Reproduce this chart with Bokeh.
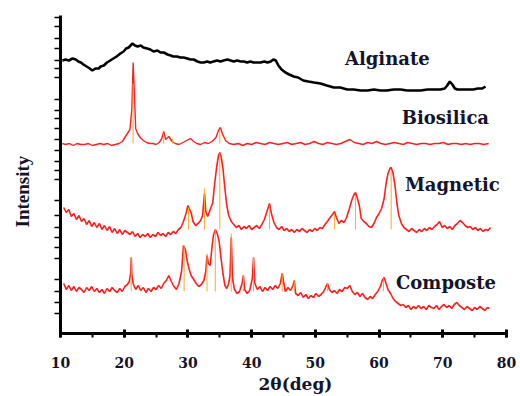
from bokeh.plotting import figure
from bokeh.models import FixedTicker, SingleIntervalTicker, Range1d, Title, LinearAxis
from bokeh.core.properties import value
from bokeh.embed import file_html
from bokeh.resources import INLINE

# ---------------- data (2theta in deg, intensity in arbitrary stacked units) -------------
alginate_tt = [
    10.3, 10.8, 11.3, 11.9, 12.4, 12.8, 13.2, 13.6, 14.1, 14.6,
    15.0, 15.5, 16.0, 16.3, 16.8, 17.3, 17.8, 18.3, 18.8, 19.4,
    19.9, 20.3, 20.7, 21.0, 21.3, 21.7, 22.1, 22.6, 23.0, 23.6,
    24.1, 24.6, 25.2, 25.7, 26.2, 26.8, 27.3, 27.7, 28.3, 28.8,
    29.3, 29.9, 30.4, 30.9, 31.5, 32.0, 32.5, 33.0, 33.5, 34.0,
    34.6, 35.1, 35.6, 36.2, 36.7, 37.2, 37.7, 38.3, 38.8, 39.3,
    39.8, 40.3, 40.9, 41.4, 42.0, 42.5, 43.0, 43.4, 43.8, 44.2,
    44.7, 45.3, 45.9, 46.6, 47.3, 48.1, 48.9, 49.8, 50.8, 51.8,
    52.9, 53.9, 55.0, 56.0, 57.1, 58.2, 59.2, 60.2, 61.2, 62.3,
    63.4, 64.4, 65.5, 66.5, 67.6, 68.6, 69.6, 70.3, 70.7, 71.1,
    71.5, 71.9, 72.3, 73.0, 73.8, 74.8, 75.5, 76.2, 76.7]
alginate_int = [
    273, 274, 273, 275, 274, 272, 271, 269, 267, 265,
    263, 265, 265, 267, 268, 271, 273, 275, 277, 280,
    282, 285, 286, 288, 290, 288, 287, 288, 286, 285,
    284, 282, 283, 281, 281, 279, 278, 277, 277, 276,
    276, 275, 274, 274, 272, 271, 271, 272, 271, 272,
    273, 272, 273, 274, 273, 272, 273, 272, 272, 271,
    272, 271, 271, 271, 272, 271, 272, 274, 273, 268,
    264, 261, 259, 257, 256, 253, 252, 251, 250, 248,
    246, 246, 244, 244, 243, 243, 244, 243, 243, 244,
    244, 243, 243, 243, 244, 244, 244, 245, 248, 252,
    249, 245, 244, 244, 244, 244, 245, 245, 247]

biosilica_tt = [
    10.3, 10.8, 11.4, 12.0, 12.6, 13.2, 13.8, 14.4, 15.0, 15.6,
    16.2, 16.8, 17.4, 18.0, 18.6, 19.2, 19.7, 20.1, 20.5, 20.9,
    21.2, 21.4, 21.6, 21.8, 22.1, 22.5, 23.0, 23.5, 24.0, 24.5,
    25.0, 25.5, 25.9, 26.2, 26.5, 27.0, 27.5, 28.0, 28.6, 29.2,
    29.8, 30.4, 30.9, 31.4, 32.0, 32.6, 33.2, 33.8, 34.4, 34.8,
    35.1, 35.4, 35.9, 36.5, 37.2, 37.9, 38.6, 39.3, 40.0, 40.7,
    41.4, 42.1, 42.8, 43.5, 44.2, 44.9, 45.6, 46.3, 47.0, 47.7,
    48.4, 49.1, 49.8, 50.5, 51.2, 51.9, 52.6, 53.3, 54.0, 54.7,
    55.4, 56.1, 56.8, 57.5, 58.2, 58.9, 59.6, 60.3, 61.0, 61.7,
    62.4, 63.1, 63.8, 64.5, 65.2, 65.9, 66.6, 67.3, 68.0, 68.7,
    69.4, 70.1, 70.8, 71.5, 72.2, 72.9, 73.6, 74.3, 75.0, 75.7,
    76.4, 77.2]
biosilica_int = [
    190, 189, 190, 188, 190, 189, 189, 190, 188, 189,
    190, 189, 190, 188, 189, 190, 192, 196, 200, 204,
    225, 271, 240, 205, 200, 196, 193, 191, 190, 190,
    189, 191, 195, 202, 194, 197, 192, 190, 189, 191,
    193, 195, 192, 190, 189, 191, 190, 192, 196, 203,
    206, 200, 193, 190, 189, 190, 188, 190, 189, 191,
    190, 189, 191, 190, 189, 190, 191, 189, 190, 191,
    189, 190, 192, 190, 189, 191, 190, 189, 190, 192,
    194, 191, 190, 189, 191, 190, 192, 190, 189, 190,
    191, 190, 189, 191, 190, 189, 190, 190, 189, 190,
    190, 191, 189, 190, 190, 189, 190, 189, 190, 190,
    189, 190]

magnetic_tt = [
    10.5, 10.9, 11.3, 11.7, 12.1, 12.5, 12.9, 13.3, 13.7, 14.1, 14.5, 14.9, 15.3, 15.7, 16.1, 16.5,
    16.9, 17.3, 17.7, 18.1, 18.5, 18.9, 19.3, 19.7, 20.1, 20.5, 20.9, 21.3, 21.7, 22.1, 22.5, 22.9,
    23.3, 23.7, 24.1, 24.5, 24.9, 25.3, 25.7, 26.1, 26.5, 26.9, 27.3, 27.7, 28.1, 28.5,
    28.9, 29.3, 29.7, 30.0, 30.2, 30.5, 30.8, 31.2, 31.6, 32.0, 32.3, 32.6, 32.8, 33.1, 33.5, 33.9,
    34.2, 34.5, 34.8, 35.0, 35.2, 35.5, 35.8, 36.1, 36.4, 36.8,
    37.2, 37.6, 38.0, 38.4, 38.8, 39.2, 39.6, 40.0, 40.4, 40.8, 41.2, 41.6, 42.0, 42.4, 42.8, 43.1,
    43.5, 43.9,
    44.3, 44.7, 45.1, 45.5, 45.9, 46.3, 46.7, 47.1, 47.5, 47.9, 48.3, 48.7, 49.1, 49.5, 49.9, 50.3,
    50.7, 51.1, 51.5, 51.9, 52.3, 52.7, 53.0, 53.3, 53.7,
    54.1, 54.5, 54.9, 55.3, 55.7, 56.0, 56.3, 56.6, 56.9, 57.2, 57.6, 58.0, 58.4, 58.8,
    59.2, 59.6, 60.0, 60.4, 60.8, 61.1, 61.4, 61.7, 61.9, 62.2, 62.5, 62.8, 63.1, 63.5, 63.9,
    64.3, 64.7, 65.1, 65.5, 65.9, 66.3, 66.7, 67.1, 67.5, 67.9, 68.3, 68.7, 69.1, 69.5, 69.9, 70.3,
    70.7, 71.1, 71.5, 71.9, 72.3, 72.7, 73.1, 73.5, 73.9, 74.3, 74.7, 75.1, 75.5, 75.9, 76.3, 76.7,
    77.1, 77.5]
magnetic_int = [
    126, 121, 124, 117, 120, 114, 118, 112, 115, 109, 113, 107, 111, 106, 110, 104,
    108, 103, 107, 101, 105, 100, 104, 99, 103, 101, 99, 102, 97, 100, 96, 99,
    97, 100, 96, 99, 97, 101, 98, 100, 97, 101, 99, 102, 100, 104,
    106, 112, 120, 128, 125, 121, 112, 108, 110, 113, 118, 140, 122, 117, 124, 131,
    150, 166, 178, 181, 177, 165, 145, 128, 118, 112,
    109, 106, 108, 104, 107, 105, 108, 104, 106, 108, 105, 109, 114, 122, 130, 120,
    111, 106,
    104, 107, 103, 105, 102, 104, 101, 104, 102, 105, 103, 101, 104, 102, 105, 103,
    106, 105, 109, 112, 116, 119, 122, 116, 110,
    113, 111, 116, 124, 133, 138, 141, 135, 128, 115, 112, 110, 107, 106,
    110, 116, 120, 125, 135, 150, 160, 165, 166, 160, 148, 130, 118, 110, 106,
    104, 102, 105, 103, 101, 104, 102, 105, 103, 106, 104, 107, 109, 112, 106, 108,
    105, 107, 104, 108, 110, 113, 111, 108, 106, 107, 104, 106, 103, 105, 102, 104,
    103, 106]

composite_tt = [
    10.5, 10.9, 11.3, 11.7, 12.1, 12.5, 12.9, 13.3, 13.7, 14.1, 14.5, 14.9, 15.3, 15.7, 16.1, 16.5,
    16.9, 17.3, 17.7, 18.1, 18.5, 18.9, 19.3, 19.7, 20.1, 20.5,
    20.8, 21.0, 21.1, 21.2, 21.4, 21.8, 22.2, 22.6, 23.0, 23.4, 23.8, 24.2, 24.6, 25.0, 25.4, 25.8,
    26.2, 26.6, 27.0, 27.4, 27.8, 28.2, 28.6,
    29.0, 29.3, 29.6, 29.9, 30.2, 30.5, 30.9, 31.3, 31.7, 32.1, 32.5,
    32.8, 33.0, 33.2, 33.5, 33.8, 34.0, 34.3, 34.6, 34.9, 35.2, 35.5, 35.8, 36.1, 36.4, 36.6, 36.8,
    37.0, 37.3, 37.7,
    38.1, 38.5, 38.7, 38.9, 39.3, 39.7, 40.1, 40.3, 40.5, 40.9, 41.3, 41.7, 42.1, 42.5, 42.9, 43.3,
    43.7, 44.1, 44.5, 44.8, 45.0, 45.3, 45.7, 46.1, 46.5, 46.7, 46.9, 47.3, 47.7,
    48.1, 48.5, 48.9, 49.3, 49.7, 50.1, 50.5, 50.9, 51.3, 51.6, 51.9, 52.2, 52.6, 53.0, 53.4, 53.8,
    54.2, 54.6, 55.0, 55.4, 55.8, 56.2, 56.6, 57.0, 57.4, 57.8, 58.2, 58.6, 59.0, 59.4, 59.8, 60.2,
    60.5, 60.8, 61.1, 61.4, 61.8, 62.2, 62.6, 63.0, 63.4, 63.8,
    64.2, 64.6, 65.0, 65.4, 65.8, 66.2, 66.6, 67.0, 67.4, 67.8, 68.2, 68.6, 69.0, 69.4, 69.8, 70.2,
    70.6, 71.0, 71.4, 71.8, 72.2, 72.6, 73.0, 73.4, 73.8, 74.2, 74.6, 75.0, 75.4, 75.8, 76.2, 76.6,
    77.0, 77.3]
composite_int = [
    50, 44, 48, 43, 47, 42, 46, 44, 41, 46, 43, 47, 42, 45, 41, 44,
    40, 45, 42, 46, 43, 41, 45, 42, 47, 49,
    52, 60, 76, 58, 50, 44, 48, 43, 46, 41, 45, 42, 46, 44, 48, 45,
    50, 53, 58, 52, 47, 44, 50,
    62, 88, 84, 72, 64, 58, 54, 50, 47, 49, 53,
    62, 78, 70, 68, 88, 98, 104, 100, 92, 75, 60, 48, 45, 50, 58, 96,
    55, 44, 40,
    42, 50, 58, 44, 40, 43, 55, 76, 50, 44, 47, 42, 46, 43, 47, 44,
    48, 45, 50, 60, 52, 42, 46, 43, 48, 53, 40, 38, 41,
    36, 39, 35, 38, 36, 40, 37, 39, 42, 46, 50, 44, 41, 43, 40, 44,
    42, 46, 45, 48, 42, 39, 41, 37, 40, 36, 34, 37, 35, 39, 42, 47,
    53, 56, 50, 44, 40, 35, 32, 30, 28, 29,
    26, 28, 24, 27, 25, 28, 25, 27, 24, 28, 26, 25, 28, 24, 27, 29,
    26, 28, 25, 29, 31, 28, 26, 24, 27, 25, 23, 26, 24, 27, 25, 23,
    26, 25]

# reference peak sticks (orange)
stick_tt = [21.4, 26.2, 27.6, 35.0,
            30.1, 32.6, 35.0, 42.8, 53.0, 56.3, 61.9,
            21.1, 29.4, 33.0, 34.3, 36.8, 38.7, 40.3, 44.8, 46.7, 51.9, 60.7]
stick_base = [190, 190, 190, 190,
              104, 104, 104, 104, 104, 104, 104,
              42, 42, 42, 42, 42, 42, 42, 42, 42, 42, 42]
stick_top = [250, 200, 195, 204,
             126, 145, 180, 128, 120, 138, 163,
             76, 88, 80, 104, 100, 58, 76, 60, 53, 50, 55]

series_names = ["Alginate", "Biosilica", "Magnetic", "Composte"]
label_tt = [61.3, 70.4, 71.5, 70.5]
label_int = [275, 216, 149, 51]

y_ticks = [316, 307, 295, 285, 273, 265, 256, 234, 223, 215, 205, 194, 183, 172,
           163, 154, 133, 118, 106, 96, 86, 75, 54, 42, 31, 20]
x_title = "2θ(deg)"
y_title = "Intensity"

# ---------------- figure -------------
SERIF = "DejaVu Serif"
TXT = "#14142b"

p = figure(width=520, height=396, output_backend="svg", toolbar_location=None,
           x_range=Range1d(10, 80), y_range=Range1d(0, 318),
           min_border_left=60, min_border_right=14, min_border_top=15, min_border_bottom=63)
p.outline_line_color = None
p.grid.visible = False

p.line(alginate_tt, alginate_int, line_color="black", line_width=2.6)
p.line(biosilica_tt, biosilica_int, line_color="#ff1f1f", line_width=1.4)
p.line(magnetic_tt, magnetic_int, line_color="#ff1f1f", line_width=1.6)
p.line(composite_tt, composite_int, line_color="#ff1f1f", line_width=1.6)
p.segment(x0=stick_tt, y0=stick_base, x1=stick_tt, y1=stick_top,
          line_color="#ffa726", line_width=1.1, line_alpha=0.9)

p.text(x=label_tt, y=label_int, text=series_names,
       text_font=value(SERIF), text_font_style="bold", text_font_size="18px",
       text_align="center", text_baseline="middle", text_color=TXT)

# x axis
p.xaxis.ticker = SingleIntervalTicker(interval=10, num_minor_ticks=2)
p.xaxis.axis_line_width = 3
p.xaxis.axis_line_color = "black"
p.xaxis.major_tick_in = 4
p.xaxis.major_tick_out = 4
p.xaxis.major_tick_line_width = 3
p.xaxis.minor_tick_in = 0
p.xaxis.minor_tick_out = 4
p.xaxis.minor_tick_line_width = 2
p.xaxis.major_label_standoff = 19
p.xaxis.major_label_text_font = SERIF
p.xaxis.major_label_text_font_style = "bold"
p.xaxis.major_label_text_font_size = "14px"
p.xaxis.major_label_text_color = TXT

# y axis (no tick labels)
p.yaxis.ticker = FixedTicker(ticks=y_ticks, minor_ticks=[])
p.yaxis.axis_line_width = 3
p.yaxis.axis_line_color = "black"
p.yaxis.major_tick_in = 0
p.yaxis.major_tick_out = 6
p.yaxis.major_tick_line_width = 1.5
p.yaxis.major_label_overrides = {t: "" for t in y_ticks}

# invisible spacer axis (one hidden tick) to keep the y title away from the axis line
spacer_tick = [y_ticks[13]]
spacer = LinearAxis(ticker=FixedTicker(ticks=spacer_tick, minor_ticks=[]), axis_line_color=None,
                    major_tick_line_color=None, minor_tick_line_color=None,
                    major_tick_in=0, major_tick_out=20, minor_tick_out=0,
                    major_label_standoff=0,
                    major_label_overrides={t: "" for t in spacer_tick})
p.add_layout(spacer, "left")

# axis titles
p.add_layout(Title(text=x_title, align="left", offset=198, standoff=2,
                   text_font=SERIF, text_font_style="bold", text_font_size="17px",
                   text_color=TXT), "below")
p.add_layout(Title(text=y_title, align="left", offset=106, standoff=4,
                   text_font="Liberation Serif", text_font_style="bold",
                   text_font_size="19px", text_color=TXT), "left")

open("out.html", "w").write(file_html(p, INLINE))
